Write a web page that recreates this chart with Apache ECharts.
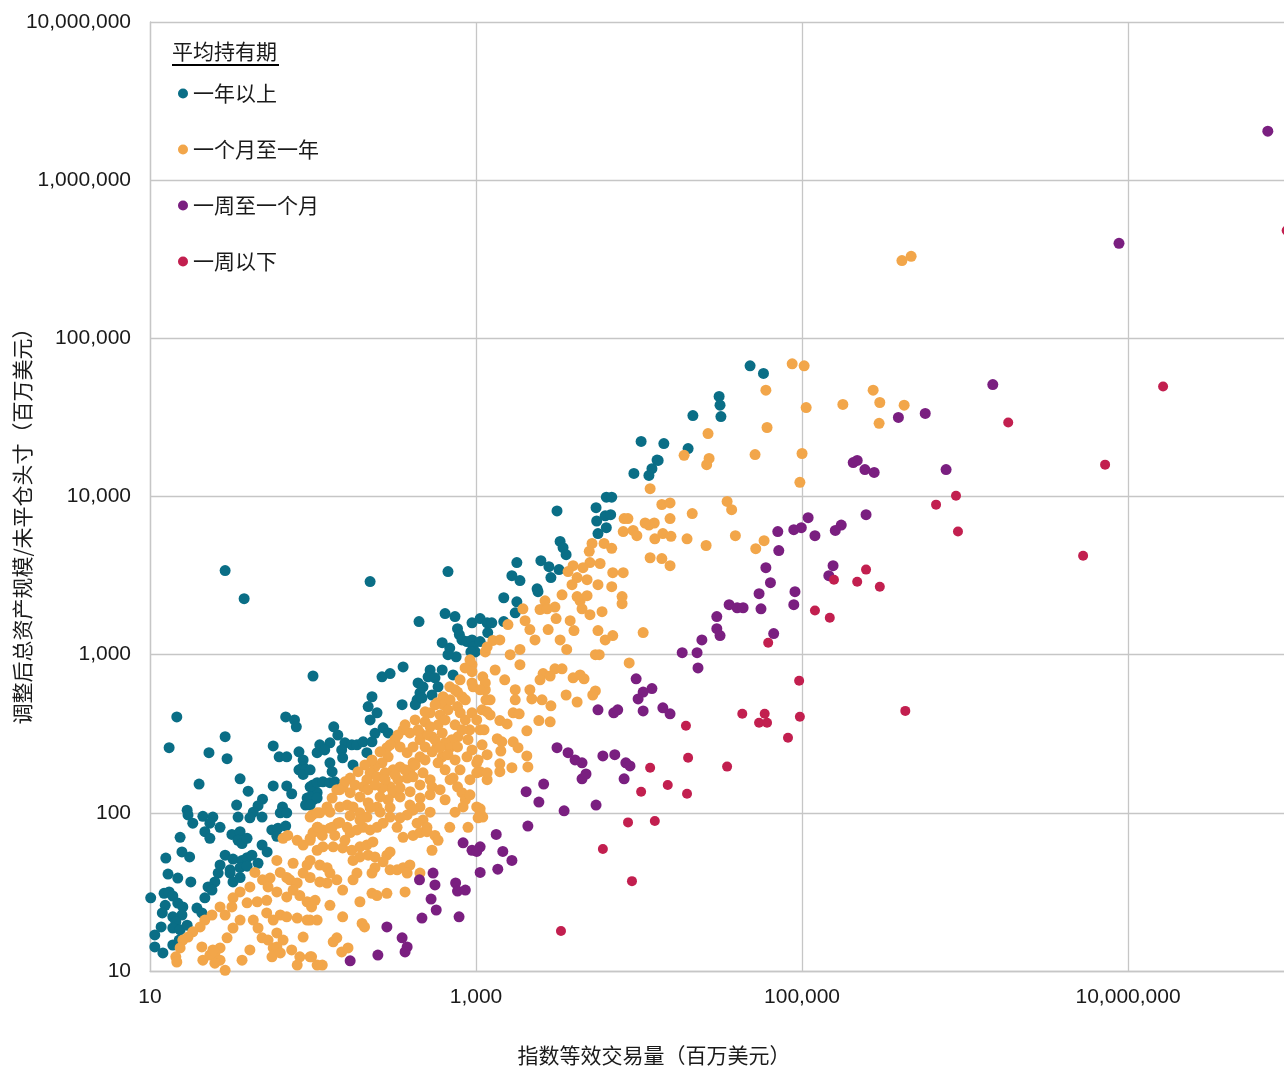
<!DOCTYPE html>
<html>
<head>
<meta charset="utf-8">
<script src="https://cdn.jsdelivr.net/npm/echarts@6/dist/echarts.min.js"></script>
<style>
html,body{margin:0;padding:0;background:#fff;}
#chart{width:1284px;height:1066px;}
</style>
</head>
<body>
<div id="chart"></div>
<script>
// Holding-period groups, in legend order
const groupNames = ['一年以上', '一个月至一年', '一周至一个月', '一周以下'];
const groupColors = ['#0a6e86', '#f2a64a', '#7a1f80', '#c21f4f'];
const legendTitle = '平均持有期';
const xAxisName = '指数等效交易量（百万美元）';
const yAxisName = '调整后总资产规模/未平仓头寸（百万美元）';
const xLabelValues = [10, 1000, 100000, 10000000];
const yLabelValues = [10, 100, 1000, 10000, 100000, 1000000, 10000000];
const xRange = [10, 90500000];
const yRange = [10, 10000000];

// [index-equivalent volume, adjusted AUM / open interest], USD millions
const overOneYear = [
  [28.9,3400],[37.8,2260],[224,2900],[673,3350],[447,1620],[646,1820],[743,1740],[100,733],[14.6,404],[13.1,258],
  [28.9,303],[23,240],[29.7,220],[20,152],[68,404],[77,387],[79,350],[57,265],[62,226],[69,226],[82,243],[87,216],
  [87,195],[82,187],[90,187],[87,175],[106,240],[35.7,164],[40,137],[57,148],[69,148],[74,132],[100,150],[106,134],
  [92,124],[90,112],[100,121],[49,122],[46,111],[43,101],[48.7,94],[41,93],[34,112],[34.7,94],[65,109],[63,100],
  [69,100],[16.9,104],[17.1,97],[18.3,86],[21.1,95],[24.3,94],[23.3,86],[21.7,76],[23.3,69],[26.9,81],[31.8,73],
  [35.7,76],[34.7,67],[36.7,64],[39.4,69],[15.3,70],[15.7,56.6],[17.5,52.6],[12.5,51.8],[48.7,62.6],[52.3,56.6],
  [55.9,78],[61,80],[68,82.5],[60,71],[28.9,54],[32.3,51],[36.7,50],[39.4,52],[42.2,54],[46,48],[31,43.6],[35.7,45],
  [39.4,46],[26.9,46.8],[26.2,41.6],[25,36.6],[22.7,34],[24,32.5],[21.7,29],[31,41.6],[32.3,36.6],[35.7,39],[12.9,41],
  [14.8,38.7],[17.8,36.6],[10.1,29],[12.2,31],[13.1,31.6],[13.8,29.8],[12.4,26],[11.9,23.3],[14.8,26.9],[15.9,25.4],
  [15.7,22.6],[13.8,22],[14.4,20.4],[19.4,25],[20.8,23.3],[11.7,19],[10.7,16.9],[13.8,18.7],[15.3,18.2],[16.9,19.5],
  [10.7,14.2],[12,13],[13.8,14.6],[15.1,15.7],
  [620,1190],[690,1100],[755,970],[673,1000],[770,1460],[790,1340],[820,1240],[880,1210],[945,1240],[960,1120],
  [990,1040],[930,1040],[945,1590],[1060,1690],[1170,1590],[357,837],[265,724],[297,760],[523,800],[508,724],[620,800],
  [723,745],[441,663],[473,626],[560,714],[585,626],[537,556],[453,574],[435,518],[424,483],[466,533],[352,483],
  [230,542],[218,470],[224,387],[247,429],[240,318],[269,345],[289,320],[134,350],[142,310],[127,277],[110,269],
  [118,250],[157,277],[173,269],[186,269],[203,281],[230,281],[150,250],[152,223],[127,207],[131,182],[176,201],
  [214,240],[96,187],[96,146],[106,155],[115,157],[127,155],[136,157],[96,126],[106,124],[96,112],
  [10300,22300],[12900,17000],[12000,15000],[11500,13600],[9300,14000],[6300,9900],[6800,9900],[5450,8500],[6200,7550],
  [6700,7670],[5500,7000],[6300,6350],[5600,5830],[3140,8100],[3280,5200],[3420,4750],[3570,4290],[1780,3820],
  [2500,3930],[2800,3600],[3230,3450],[1660,3160],[1860,2940],[2880,3070],[2370,2610],[2400,2500],[1480,2290],
  [1780,2160],[1740,1840],[1250,1590],[1180,1380],[1060,1210],[1480,1620],
  [48000,67000],[58000,60000],[31000,42900],[31400,37800],[31800,32000],[21400,32500],[14200,21600],[20000,20100],[13100,16900]
];

const monthToYear = [
  [410000,310000],[467000,330000],[87000,69000],[103000,67000],[60000,47000],[106000,36500],[61000,27300],[178000,38200],
  [273000,47000],[300000,39300],[423000,37800],[297000,29000],[26500,25000],[18900,18200],[26900,17400],[26000,15900],
  [51500,18400],[100000,18700],[97000,12300],[11700,11200],[13800,8900],[15500,9100],[34700,9300],[37000,8250],
  [21200,7800],[15500,7250],[12400,6800],[11500,6600],[14000,5830],[15700,5600],[12500,5400],[19700,5400],[25800,4900],
  [39000,5650],[58500,5260],[52000,4680],[11700,4100],[13800,4050],[15500,3650],
  [8100,7250],[8550,7250],[8000,6000],[9200,6100],[9700,5650],[10900,6800],[5150,5050],[4950,4500],[6100,5050],
  [6800,4700],[5770,3770],[5000,3820],[4530,3550],[3940,3650],[3670,3350],[6900,3300],[8000,3300],[6800,2690],
  [7870,2330],[7870,2100],[5600,2770],[4800,2980],[4170,3070],[3880,2770],[4350,2190],[4170,2330],[4800,2360],
  [4470,1950],[3370,2390],[2650,2190],[3050,2000],[2470,1930],[2730,1950],[1940,1950],[5000,1790],[5930,1870],
  [3780,1640],[3990,1420],[3100,1690],[5600,1420],[6200,1240],[6900,1320],[10600,1380],[5700,1000],[5400,1000],
  [8700,887],[3940,714],[4600,703],[4350,745],[5400,590],[5200,556],[3570,556],[4170,502],[3050,814],[3370,814],
  [2580,760],[2850,733],[2200,525],[2540,518],[2880,475],[2850,376],[2430,383],[2050,330],[1690,429],[1840,423],
  [1400,383],[1550,365],[1350,294],[1440,281],[1420,246],[1690,281],[1810,258],[2050,229],[2080,195],[1400,204],
  [1400,182],[1660,193],[1170,162],[1060,182],[1060,106],[1100,94],
  [1570,1550],[2000,1640],[1270,1230],[1140,1040],[1400,1240],[1620,1000],[1860,1080],[1310,800],[1860,865],[1500,693],
  [1740,600],[1220,518],[2140,600],[2470,693],[1140,600],[2300,1240],[2140,1440],[2770,1440],[3280,1240],[3600,1080],
  [1220,416],[1060,335],[1170,233],[1740,518],
  [945,865],[945,780],[945,663],[960,626],[1100,724],[1140,663],[1170,1120],[690,626],[770,580],[820,542],[860,518],
  [628,542],[945,429],[1090,448],[1170,435],[1010,387],[577,496],[628,483],[673,448],[770,470],[800,429],[860,387],
  [915,335],[893,290],[776,303],[711,290],[646,277],[690,258],[770,261],[945,250],[880,226],[1010,207],[1010,179],
  [1170,179],[523,429],[487,376],[523,350],[585,360],[537,303],[620,320],[577,261],[620,226],[585,207],[646,187],
  [723,166],[770,146],[820,134],[860,121],[833,109],[1010,109],[1060,100],[357,335],[393,320],[318,290],[342,261],
  [378,240],[411,261],[453,290],[453,320],[487,261],[453,226],[411,207],[393,187],[378,166],[411,169],[473,179],
  [523,162],[537,146],[453,150],[284,258],[289,226],[265,207],[240,195],[224,179],[214,162],[203,146],[247,169],
  [277,179],[310,187],[342,195],[332,162],[297,146],[265,144],[310,134],[342,126],[289,121],[194,126],[218,116],
  [247,109],[258,126],[169,134],[153,146],[140,140],[131,124],[122,109],[110,100],[99,97],[127,101],[146,109],
  [162,112],[176,109],[194,100],[214,94],[393,112],[453,109],[411,104],[378,97],[342,93],[473,90],[435,86],[500,81],
  [328,81],[357,70],[411,72],[453,75],[500,76],[560,72],[585,67],[537,58],[690,81],[893,81],[1030,93],[96,94],
  [106,81],[115,78],[131,81],[142,86],[162,81],[169,75],[186,78],[203,81],[224,78],[247,81],[269,86],[297,94],
  [96,67],[106,58],[115,61],[133,61],[152,60],[173,58],[194,61],[214,62.6],[233,65.5],[176,50],[194,52.6],[218,54],
  [240,52.6],[284,54],[297,56.6],[269,49],[240,45],[230,41.6],[297,43.6],[328,43.6],[357,45],[393,46.8],[378,41.6],
  [96,50],[110,46.8],[122,45],[127,41.6],[140,37.7],[152,32.5],[122,36],[110,36.6],[96,39],[176,37.7],[186,41.6],
  [230,31],[247,30],[284,31],[367,31.6],[453,41.6],[96,26.9],[106,21],[96,21],[127,26],[152,22],[194,27.4],[200,20],
  [207,19],[96,12.3],[114,10.9],[133,15.3],[140,16.2],[150,13.2],[164,14],
  [367,360],[423,387],[487,435],[561,482],[602,416],[693,518],[744,599],[798,693],[857,825],[918,928],[646,387],
  [744,360],[820,335],[441,335],[508,311],[561,289],[332,311],[297,269],[258,243],[230,216],[208,201],[189,182],
  [169,166],[157,157],[146,140],[181,150],[217,140],[240,150],[277,162],[319,174],[367,187],[423,201],[487,216],
  [538,243],[602,258],[673,233],[744,216],[798,187],[693,162],[602,140],[523,130],[454,124],[394,136],[342,144],
  [297,108],[258,101],[224,108],[194,90],[169,96],[146,87],[127,80],[114,72],[136,72],[157,67],[523,101],[646,121],
  [744,101],[918,130],[918,162],[1030,216],[1090,269],[1120,335],[1150,518],[1060,599],
  [44,42],[49,37.7],[54.5,38.7],[41,34],[35.7,31.6],[32.3,29],[31.8,25.4],[28.9,22.6],[26.9,25.4],[24,22.6],[21.7,21],
  [20.3,19],[18.3,17.7],[17.1,16.4],[15.9,15.7],[15.3,14],[14.4,12.3],[14.6,11.4],[60,50],[63,42],[69,39],[75.5,48],
  [72,37.7],[80,36],[87,41.6],[92,46.8],[65.5,69],[70,72],[80,67],[87,62.6],[96,69],[100,75],[107,81],[106,100],
  [53,34],[60,31.6],[69,29.4],[75.5,32.5],[83,30],[92,27.4],[103,28],[39.4,27],[45.5,27.4],[52,28],[52,23.3],[57,21],
  [63,22.6],[69,22],[98,25.4],[35.7,21],[32.3,18.7],[29.7,16.2],[26.9,14],[25,13],[26.9,11.7],[28.9,10.1],[43,21],
  [46,18.7],[48.7,16.2],[53,15.7],[57,14],[56,12.3],[60,17.4],[65.5,15.7],[60,14.2],[63,13],[74,13.6],[83,12.3],
  [80,10.9],[87,16.4],[98,12.3],[106,10.9],[80,21.6],[92,21],[41,13.6],[36.7,11.7],[20.8,14.2],[21.1,11.7],[23.3,12.6],
  [25,11.2],[24.3,13.6]
];

const weekToMonth = [
  [72000000,2040000],[8800000,399000],[1480000,51000],[765000,14800],[570000,33500],[390000,31600],[206000,16400],
  [218000,16900],[243000,14800],[277000,14200],[247000,7670],[174000,6600],[160000,6100],[109000,7350],[99000,6350],
  [89000,6170],[120000,5650],[71000,6000],[72000,4550],[155000,3650],[146000,3160],[60000,3550],[64000,2850],
  [54500,2430],[90500,2500],[89000,2070],[56000,1950],[35700,2070],[40000,1980],[43500,1980],[30000,1740],[30000,1460],
  [31400,1320],[67000,1360],[24300,1240],[18400,1030],[22700,1030],[23000,825],[12000,610],[14000,461],[15500,423],
  [9600,703],[10600,580],[9870,525],[10600,441],[5600,448],[7000,429],[7400,448],[3140,258],[3670,240],[4050,216],
  [4470,207],[6000,229],[7100,233],[8300,207],[8800,198],[8100,164],[4470,164],[4730,176],[2600,152],[2030,136],
  [2430,117],[3470,103],[5450,112],[2080,82.5],[1330,73],[1060,61],[1460,57],[1660,50],[1360,44],[1060,42],[833,64.6],
  [945,58],[1010,57],[545,41.6],[560,35],[450,37.7],[750,36],[770,32],[860,32.5],[530,28.5],[570,24.3],[466,21.6],
  [787,22],[284,19],[352,16.2],[378,14.2],[367,13.2],[250,12.6],[169,11.6]
];

const underOneWeek = [
  [16400000,49600],[1840000,29400],[7230000,15900],[880000,10100],[664000,8880],[905000,6000],[5300000,4220],
  [247000,3450],[218000,2890],[300000,2690],[157000,2980],[120000,1900],[148000,1710],[62000,1190],[96000,684],
  [430000,441],[43000,423],[59000,423],[54500,371],[61000,371],[97000,405],[82000,298],[19400,355],[20000,223],
  [34700,196],[11700,193],[15000,150],[19700,132],[10300,136],[12500,88.8],[8560,87],[6000,59],[9050,37],[3320,17.9],
  [94000000,480000]
];

const groupData = [overOneYear, monthToYear, weekToMonth, underOneWeek];

const numFont = '"Liberation Sans", Arial, "Noto Sans CJK SC", sans-serif';
const cjkFont = '"Noto Sans CJK SC", "Liberation Sans", sans-serif';
const gridColor = '#c6c6c6';
const textColor = '#1a1a1a';

function fmt(v) {
  return Math.round(v).toLocaleString('en-US');
}
function hasLabel(list, v) {
  const r = Math.round(v);
  return list.some(t => Math.abs(t - r) / t < 1e-6);
}

const chart = echarts.init(document.getElementById('chart'), null, { renderer: 'canvas' });

chart.setOption({
  animation: false,
  backgroundColor: '#ffffff',
  grid: { left: 150, top: 22, bottom: 95, right: 0, containLabel: false },
  xAxis: {
    type: 'log', logBase: 10, min: xRange[0], max: xRange[1],
    axisLine: { show: true, lineStyle: { color: gridColor, width: 1.3 } },
    axisTick: { show: false },
    splitLine: {
      show: true, showMinLine: true, showMaxLine: false,
      lineStyle: { color: [gridColor, 'rgba(0,0,0,0)'], width: 1.3 }
    },
    axisLabel: {
      fontSize: 21, color: textColor, fontFamily: numFont, margin: 16,
      showMaxLabel: false,
      formatter: v => hasLabel(xLabelValues, v) ? fmt(v) : ''
    }
  },
  yAxis: {
    type: 'log', logBase: 10, min: yRange[0], max: yRange[1],
    axisLine: { show: true, lineStyle: { color: gridColor, width: 1.3 } },
    axisTick: { show: false },
    splitLine: { show: true, lineStyle: { color: gridColor, width: 1.3 } },
    axisLabel: {
      fontSize: 21, color: textColor, fontFamily: numFont, margin: 19,
      formatter: v => hasLabel(yLabelValues, v) ? fmt(v) : ''
    }
  },
  legend: {
    orient: 'vertical', left: 173, top: 78,
    icon: 'circle', itemWidth: 10, itemHeight: 10, itemGap: 35,
    data: groupNames,
    textStyle: { fontSize: 21, lineHeight: 21, color: textColor, fontFamily: cjkFont },
    selectedMode: false
  },
  graphic: [
    { type: 'text', left: 172, top: 41, style: { text: legendTitle, font: '21px ' + cjkFont, fill: textColor } },
    { type: 'line', shape: { x1: 172, y1: 65, x2: 279, y2: 65 }, style: { stroke: '#000', lineWidth: 2 } },
    { type: 'text', x: 654, y: 1055, style: { text: xAxisName, font: '21px ' + cjkFont, fill: textColor, textAlign: 'center', textVerticalAlign: 'middle' } },
    { type: 'text', x: 22, y: 521, rotation: Math.PI / 2, style: { text: yAxisName, font: '21px ' + cjkFont, fill: textColor, textAlign: 'center', textVerticalAlign: 'middle' } }
  ],
  series: groupNames.map((name, i) => ({
    name: name,
    type: 'scatter',
    data: groupData[i],
    symbol: 'circle',
    symbolSize: i === 3 ? 10 : 11,
    clip: i !== 3,
    itemStyle: { color: groupColors[i], opacity: 1 },
    emphasis: { disabled: true },
    silent: true
  }))
});
</script>
</body>
</html>
